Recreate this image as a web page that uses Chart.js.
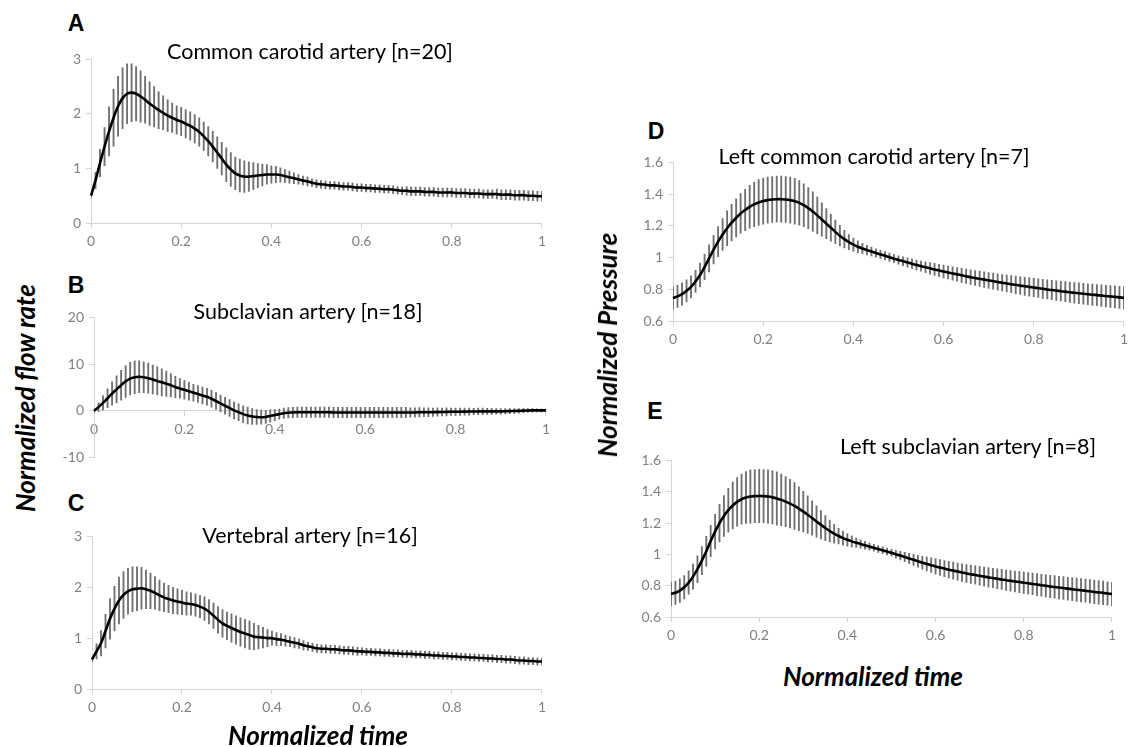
<!DOCTYPE html>
<html>
<head>
<meta charset="utf-8">
<script src="https://cdn.jsdelivr.net/npm/chart.js@4.4.0/dist/chart.umd.min.js"></script>
<style>
  html, body { margin: 0; padding: 0; background: #fff; }
  #fig { position: relative; width: 1129px; height: 747px; overflow: hidden; background: #fff; font-family: Lato, "Open Sans", sans-serif; }
  #fig canvas { position: absolute; }
  .lbl { position: absolute; white-space: nowrap; transform: translate(-50%, -50%); line-height: 1; color: #000; }
  .letter { font-family: "Liberation Sans", Arial, sans-serif; font-weight: bold; font-size: 23px; }
  .ttl { font-size: 21.5px; }
  .axt { font-weight: bold; font-style: italic; font-size: 26px; }
  .rot { transform: translate(-50%, -50%) rotate(-90deg); }
</style>
</head>
<body>
<div id="fig">
  <canvas id="cA"></canvas>
  <canvas id="cB"></canvas>
  <canvas id="cC"></canvas>
  <canvas id="cD"></canvas>
  <canvas id="cE"></canvas>

  <div class="lbl letter" style="left:76px; top:23px;">A</div>
  <div class="lbl letter" style="left:76px; top:285px;">B</div>
  <div class="lbl letter" style="left:76px; top:503px;">C</div>
  <div class="lbl letter" style="left:656px; top:131px;">D</div>
  <div class="lbl letter" style="left:655px; top:411px;">E</div>

  <div class="lbl ttl" style="left:310px; top:52px;">Common carotid artery [n=20]</div>
  <div class="lbl ttl" style="left:308px; top:312px;">Subclavian artery [n=18]</div>
  <div class="lbl ttl" style="left:310px; top:536px;">Vertebral artery [n=16]</div>
  <div class="lbl ttl" style="left:874px; top:157px;">Left common carotid artery [n=7]</div>
  <div class="lbl ttl" style="left:968px; top:447px;">Left subclavian artery [n=8]</div>

  <div class="lbl axt" style="left:318px; top:735px;">Normalized time</div>
  <div class="lbl axt" style="left:873px; top:676px;">Normalized time</div>
  <div class="lbl axt rot" style="left:25px; top:398px;">Normalized flow rate</div>
  <div class="lbl axt rot" style="left:607px; top:345px;">Normalized Pressure</div>
</div>

<script>
// Sample times across one normalized cardiac cycle
const time = [
  0.00,0.01,0.02,0.03,0.04,0.05,0.06,0.07,0.08,0.09,
  0.10,0.11,0.12,0.13,0.14,0.15,0.16,0.17,0.18,0.19,
  0.20,0.21,0.22,0.23,0.24,0.25,0.26,0.27,0.28,0.29,
  0.30,0.31,0.32,0.33,0.34,0.35,0.36,0.37,0.38,0.39,
  0.40,0.41,0.42,0.43,0.44,0.45,0.46,0.47,0.48,0.49,
  0.50,0.51,0.52,0.53,0.54,0.55,0.56,0.57,0.58,0.59,
  0.60,0.61,0.62,0.63,0.64,0.65,0.66,0.67,0.68,0.69,
  0.70,0.71,0.72,0.73,0.74,0.75,0.76,0.77,0.78,0.79,
  0.80,0.81,0.82,0.83,0.84,0.85,0.86,0.87,0.88,0.89,
  0.90,0.91,0.92,0.93,0.94,0.95,0.96,0.97,0.98,0.99,
  1.00
];

// A: common carotid artery flow (mean, +/- SD)
const carotidFlowMean = [
  0.50,0.78,1.10,1.40,1.68,1.93,2.14,2.29,2.37,2.39,
  2.37,2.32,2.26,2.19,2.13,2.07,2.02,1.97,1.93,1.89,
  1.86,1.82,1.78,1.73,1.67,1.59,1.50,1.40,1.29,1.18,
  1.07,0.98,0.91,0.87,0.85,0.85,0.86,0.87,0.88,0.89,
  0.89,0.89,0.88,0.86,0.84,0.82,0.80,0.78,0.76,0.74,
  0.72,0.71,0.70,0.69,0.69,0.68,0.67,0.67,0.66,0.65,
  0.65,0.64,0.64,0.63,0.63,0.62,0.62,0.61,0.60,0.59,
  0.59,0.58,0.58,0.58,0.57,0.57,0.57,0.56,0.56,0.56,
  0.56,0.55,0.55,0.55,0.54,0.54,0.54,0.53,0.53,0.53,
  0.53,0.52,0.52,0.52,0.51,0.51,0.51,0.50,0.50,0.49,
  0.49
];
const carotidFlowSD = [
  0.04,0.15,0.25,0.35,0.45,0.52,0.55,0.56,0.55,0.53,
  0.50,0.47,0.43,0.40,0.37,0.34,0.31,0.29,0.27,0.26,
  0.26,0.26,0.26,0.26,0.26,0.26,0.27,0.28,0.29,0.30,
  0.31,0.31,0.30,0.30,0.29,0.27,0.25,0.22,0.20,0.18,
  0.16,0.15,0.13,0.12,0.11,0.10,0.09,0.08,0.08,0.07,
  0.07,0.07,0.07,0.07,0.07,0.07,0.07,0.07,0.07,0.07,
  0.07,0.07,0.07,0.07,0.07,0.07,0.07,0.07,0.07,0.07,
  0.08,0.08,0.08,0.08,0.08,0.08,0.08,0.08,0.08,0.08,
  0.08,0.08,0.08,0.08,0.08,0.08,0.08,0.08,0.08,0.08,
  0.09,0.09,0.09,0.09,0.09,0.09,0.09,0.09,0.09,0.09,
  0.09
];

// B: subclavian artery flow
const subclavianFlowMean = [
  0.0,0.8,1.7,2.7,3.7,4.6,5.5,6.3,6.9,7.2,
  7.3,7.2,7.0,6.7,6.4,6.1,5.8,5.5,5.1,4.8,
  4.5,4.2,3.9,3.6,3.3,3.0,2.6,2.1,1.6,1.1,
  0.6,0.1,-0.3,-0.7,-1.0,-1.2,-1.3,-1.35,-1.3,-1.1,
  -0.9,-0.7,-0.5,-0.4,-0.35,-0.3,-0.3,-0.3,-0.3,-0.3,
  -0.3,-0.3,-0.3,-0.35,-0.35,-0.35,-0.35,-0.35,-0.35,-0.35,
  -0.35,-0.35,-0.35,-0.35,-0.35,-0.35,-0.35,-0.35,-0.35,-0.35,
  -0.35,-0.35,-0.3,-0.3,-0.3,-0.28,-0.26,-0.24,-0.22,-0.2,
  -0.2,-0.18,-0.16,-0.15,-0.14,-0.12,-0.1,-0.1,-0.1,-0.1,
  -0.1,-0.08,-0.05,-0.02,0.0,0.05,0.08,0.1,0.1,0.1,
  0.1
];
const subclavianFlowSD = [
  0.3,0.9,1.5,2.0,2.5,2.9,3.2,3.4,3.5,3.5,
  3.4,3.3,3.2,3.1,3.0,2.9,2.7,2.5,2.3,2.1,
  2.0,1.9,1.8,1.8,1.8,1.8,1.8,1.8,1.8,1.8,
  1.8,1.8,1.8,1.8,1.8,1.7,1.6,1.5,1.4,1.3,
  1.2,1.1,1.1,1.1,1.1,1.1,1.1,1.1,1.1,1.1,
  1.1,1.1,1.1,1.1,1.1,1.1,1.1,1.1,1.1,1.1,
  1.1,1.1,1.1,1.1,1.1,1.1,1.1,1.1,1.1,1.1,
  1.0,1.0,1.0,0.95,0.95,0.9,0.9,0.85,0.85,0.8,
  0.8,0.8,0.75,0.75,0.7,0.7,0.7,0.65,0.65,0.6,
  0.6,0.55,0.55,0.5,0.5,0.45,0.4,0.4,0.35,0.3,
  0.3
];

// C: vertebral artery flow
const vertebralFlowMean = [
  0.58,0.74,0.90,1.14,1.38,1.58,1.74,1.85,1.92,1.96,
  1.97,1.98,1.96,1.93,1.89,1.84,1.80,1.77,1.74,1.72,
  1.70,1.68,1.67,1.65,1.62,1.58,1.52,1.44,1.36,1.29,
  1.24,1.20,1.16,1.12,1.09,1.06,1.03,1.02,1.01,1.00,
  1.00,0.98,0.97,0.95,0.93,0.91,0.89,0.86,0.84,0.82,
  0.80,0.79,0.79,0.78,0.78,0.77,0.76,0.76,0.75,0.74,
  0.74,0.73,0.73,0.72,0.72,0.71,0.71,0.70,0.70,0.69,
  0.69,0.69,0.68,0.68,0.67,0.67,0.66,0.66,0.65,0.65,
  0.64,0.64,0.63,0.63,0.62,0.62,0.61,0.61,0.60,0.60,
  0.59,0.59,0.58,0.58,0.57,0.56,0.56,0.55,0.55,0.54,
  0.54
];
const vertebralFlowSD = [
  0.05,0.15,0.25,0.33,0.40,0.44,0.46,0.46,0.45,0.44,
  0.43,0.41,0.38,0.35,0.32,0.30,0.28,0.27,0.26,0.25,
  0.24,0.23,0.22,0.22,0.22,0.23,0.24,0.25,0.26,0.27,
  0.27,0.28,0.28,0.28,0.28,0.28,0.26,0.23,0.20,0.17,
  0.14,0.13,0.12,0.11,0.10,0.10,0.09,0.09,0.08,0.08,
  0.08,0.08,0.08,0.08,0.08,0.08,0.08,0.08,0.08,0.08,
  0.07,0.07,0.07,0.07,0.07,0.07,0.07,0.07,0.07,0.07,
  0.07,0.07,0.07,0.07,0.07,0.07,0.07,0.07,0.07,0.07,
  0.07,0.07,0.07,0.07,0.07,0.07,0.07,0.07,0.07,0.07,
  0.07,0.07,0.07,0.07,0.07,0.07,0.07,0.07,0.07,0.07,
  0.07
];

// D: left common carotid artery pressure
const carotidPressureMean = [
  0.745,0.755,0.770,0.790,0.815,0.850,0.890,0.940,0.995,1.050,
  1.100,1.145,1.185,1.220,1.250,1.278,1.300,1.320,1.335,1.347,
  1.356,1.362,1.366,1.368,1.368,1.366,1.362,1.355,1.345,1.330,
  1.312,1.290,1.266,1.240,1.214,1.188,1.162,1.138,1.116,1.097,
  1.081,1.068,1.057,1.047,1.038,1.029,1.020,1.011,1.002,0.993,
  0.985,0.977,0.969,0.961,0.953,0.946,0.939,0.932,0.925,0.918,
  0.912,0.906,0.900,0.894,0.888,0.882,0.876,0.871,0.866,0.861,
  0.856,0.851,0.846,0.841,0.836,0.832,0.828,0.823,0.819,0.815,
  0.811,0.807,0.803,0.799,0.795,0.792,0.788,0.785,0.781,0.778,
  0.775,0.772,0.769,0.766,0.763,0.760,0.757,0.755,0.752,0.749,
  0.746
];
const carotidPressureSD = [
  0.070,0.070,0.070,0.070,0.070,0.070,0.075,0.080,0.085,0.090,
  0.095,0.100,0.110,0.115,0.120,0.125,0.130,0.135,0.140,0.145,
  0.145,0.145,0.145,0.145,0.145,0.145,0.145,0.145,0.140,0.135,
  0.130,0.125,0.115,0.105,0.095,0.085,0.075,0.065,0.055,0.048,
  0.042,0.037,0.033,0.030,0.028,0.026,0.026,0.026,0.026,0.026,
  0.026,0.028,0.029,0.030,0.031,0.032,0.034,0.036,0.038,0.039,
  0.040,0.041,0.042,0.043,0.044,0.045,0.046,0.047,0.048,0.049,
  0.050,0.051,0.052,0.052,0.053,0.054,0.055,0.056,0.057,0.058,
  0.058,0.059,0.060,0.060,0.061,0.062,0.062,0.063,0.064,0.065,
  0.065,0.066,0.066,0.067,0.067,0.068,0.068,0.069,0.069,0.070,
  0.070
];

// E: left subclavian artery pressure
const subclavianPressureMean = [
  0.748,0.755,0.768,0.790,0.820,0.858,0.905,0.960,1.020,1.085,
  1.145,1.200,1.245,1.282,1.312,1.335,1.352,1.363,1.369,1.372,
  1.373,1.372,1.369,1.364,1.357,1.348,1.337,1.324,1.309,1.292,
  1.273,1.253,1.232,1.210,1.189,1.168,1.149,1.132,1.117,1.104,
  1.093,1.083,1.074,1.066,1.058,1.050,1.042,1.034,1.026,1.018,
  1.010,1.001,0.992,0.983,0.974,0.965,0.956,0.947,0.939,0.931,
  0.923,0.916,0.909,0.902,0.896,0.890,0.884,0.878,0.873,0.868,
  0.863,0.858,0.853,0.849,0.844,0.840,0.835,0.831,0.827,0.823,
  0.819,0.815,0.811,0.807,0.803,0.799,0.795,0.792,0.788,0.785,
  0.781,0.778,0.774,0.771,0.768,0.764,0.760,0.757,0.754,0.750,
  0.746
];
const subclavianPressureSD = [
  0.075,0.075,0.075,0.075,0.075,0.080,0.085,0.090,0.095,0.100,
  0.110,0.120,0.130,0.140,0.150,0.155,0.160,0.165,0.170,0.170,
  0.170,0.170,0.170,0.170,0.170,0.165,0.160,0.155,0.150,0.140,
  0.130,0.120,0.110,0.100,0.090,0.080,0.070,0.060,0.050,0.045,
  0.040,0.035,0.030,0.027,0.025,0.022,0.022,0.022,0.022,0.022,
  0.022,0.025,0.028,0.030,0.033,0.035,0.038,0.041,0.044,0.047,
  0.050,0.051,0.052,0.053,0.054,0.055,0.056,0.057,0.058,0.059,
  0.060,0.061,0.062,0.062,0.063,0.064,0.065,0.066,0.067,0.068,
  0.068,0.069,0.069,0.070,0.070,0.071,0.071,0.072,0.072,0.073,
  0.073,0.073,0.074,0.074,0.074,0.075,0.075,0.075,0.075,0.075,
  0.075
];

// Tick values and their printed labels
const timeTicks = [0, 0.2, 0.4, 0.6, 0.8, 1];
const timeTickLabels = ['0', '0.2', '0.4', '0.6', '0.8', '1'];
const flowTicks = [0, 1, 2, 3];
const flowTickLabels = ['0', '1', '2', '3'];
const subFlowTicks = [-10, 0, 10, 20];
const subFlowTickLabels = ['-10', '0', '10', '20'];
const pressureTicks = [0.6, 0.8, 1, 1.2, 1.4, 1.6];
const pressureTickLabels = ['0.6', '0.8', '1', '1.2', '1.4', '1.6'];

const AXIS_GREY = '#d4d4d4';
const TICK_TEXT = '#808080';
const BAR_GREY = '#707070';
const PAD = 8, Y_W = 42, X_H = 30;

function tickLabeler(values, labels) {
  return function (v) {
    const i = values.findIndex(t => Math.abs(t - v) < 1e-6);
    return i >= 0 ? labels[i] : '';
  };
}

function drawPanel(id, area, yTicks, yLabels, mean, sd, xAtZero) {
  const canvas = document.getElementById(id);
  const w = area.right - area.left;
  const h = area.bottom - area.top;
  const cw = w + Y_W + 2 * PAD;
  const ch = h + (xAtZero ? 0 : X_H) + 2 * PAD;
  canvas.width = cw;
  canvas.height = ch;
  canvas.style.width = cw + 'px';
  canvas.style.height = ch + 'px';
  canvas.style.left = (area.left - Y_W - PAD) + 'px';
  canvas.style.top = (area.top - PAD) + 'px';

  const linePts = time.map((t, i) => ({ x: t, y: mean[i] }));
  const barPts = time.map((t, i) => ({ x: t, y: [mean[i] - sd[i], mean[i] + sd[i]] }));

  const tickFont = { family: 'Lato, "Open Sans", sans-serif', size: 14 };

  new Chart(canvas, {
    type: 'line',
    data: {
      datasets: [
        {
          type: 'line',
          data: linePts,
          borderColor: '#000',
          borderWidth: 2.6,
          pointRadius: 0,
          tension: 0.35,
          fill: false,
          order: 0,
          clip: 4
        },
        {
          type: 'bar',
          data: barPts,
          backgroundColor: BAR_GREY,
          borderWidth: 0,
          barThickness: 1.2,
          grouped: false,
          order: 1
        }
      ]
    },
    options: {
      responsive: false,
      animation: false,
      devicePixelRatio: 1,
      layout: { padding: PAD },
      plugins: { legend: { display: false }, tooltip: { enabled: false }, title: { display: false } },
      scales: {
        x: {
          type: 'linear',
          min: 0, max: 1,
          offset: false,
          position: xAtZero ? { y: 0 } : 'bottom',
          afterBuildTicks: s => { s.ticks = timeTicks.map(v => ({ value: v })); },
          afterFit: s => { if (!xAtZero) s.height = X_H; },
          grid: { display: true, drawOnChartArea: false, drawTicks: true, tickLength: 5, color: AXIS_GREY, offset: false },
          border: { display: true, color: AXIS_GREY, width: 1 },
          ticks: { color: TICK_TEXT, font: tickFont, padding: 5, maxRotation: 0, autoSkip: false,
                   callback: tickLabeler(timeTicks, timeTickLabels) }
        },
        y: {
          type: 'linear',
          min: yTicks[0], max: yTicks[yTicks.length - 1],
          afterBuildTicks: s => { s.ticks = yTicks.map(v => ({ value: v })); },
          afterFit: s => { s.width = Y_W; },
          grid: { display: true, drawOnChartArea: false, drawTicks: true, tickLength: 5, color: AXIS_GREY },
          border: { display: true, color: AXIS_GREY, width: 1 },
          ticks: { color: TICK_TEXT, font: tickFont, padding: 5, autoSkip: false,
                   callback: tickLabeler(yTicks, yLabels) }
        }
      }
    }
  });
}

drawPanel('cA', { left: 91, top: 54, right: 543, bottom: 223 }, flowTicks, flowTickLabels, carotidFlowMean, carotidFlowSD, false);
drawPanel('cB', { left: 94, top: 312, right: 547, bottom: 463 }, subFlowTicks, subFlowTickLabels, subclavianFlowMean, subclavianFlowSD, true);
drawPanel('cC', { left: 92, top: 531, right: 543, bottom: 689 }, flowTicks, flowTickLabels, vertebralFlowMean, vertebralFlowSD, false);
drawPanel('cD', { left: 673, top: 157, right: 1125, bottom: 321 }, pressureTicks, pressureTickLabels, carotidPressureMean, carotidPressureSD, false);
drawPanel('cE', { left: 671, top: 455, right: 1113, bottom: 617 }, pressureTicks, pressureTickLabels, subclavianPressureMean, subclavianPressureSD, false);
</script>
</body>
</html>
